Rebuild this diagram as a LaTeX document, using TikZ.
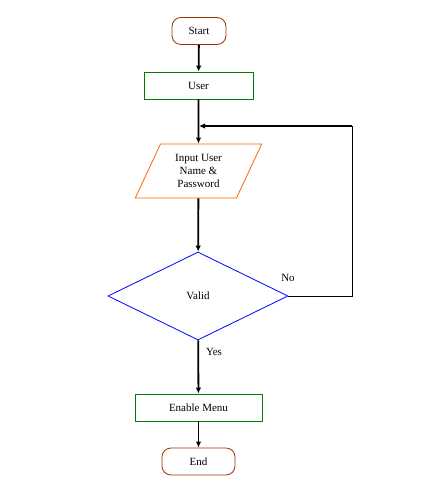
\documentclass[tikz,border=0pt]{standalone}
\usepackage{fontspec}
\setmainfont{Liberation Serif}
\usepackage{xcolor}
\usetikzlibrary{shapes.geometric, positioning, arrows.meta}

\definecolor{termbrown}{HTML}{993300}
\definecolor{procgreen}{HTML}{008000}
\definecolor{iorange}{HTML}{FF6600}
\definecolor{decblue}{HTML}{0000FF}

\begin{document}
\begin{tikzpicture}[
x=1pt, y=-1pt,
    terminal/.style={draw=termbrown, rectangle, rounded corners=9pt, line width=0.8pt, minimum height=27pt, align=center, font=\fontsize{11}{13}\selectfont},
    process/.style={draw=procgreen, rectangle, line width=0.8pt, minimum height=27pt, align=center, font=\fontsize{11}{13}\selectfont},
    io/.style={draw=iorange, trapezium, trapezium left angle=65, trapezium right angle=115, trapezium stretches=true, line width=0.8pt, minimum width=127pt, minimum height=54pt, inner sep=0pt, align=center, font=\fontsize{11}{13}\selectfont},
    decision/.style={draw=decblue, diamond, aspect=2, line width=0.8pt, minimum width=180pt, minimum height=88pt, inner sep=0pt, align=center, font=\fontsize{11}{13}\selectfont},
    tag/.style={font=\fontsize{11}{13}\selectfont},
    line/.style={draw, line width=1.8pt, -{Latex[length=6pt, width=5.5pt]}},
    thinline/.style={draw, line width=1pt}
]
    \useasboundingbox (0,0) rectangle (441,494);

    % --- Start and User ---
    \node[terminal, minimum width=54pt] (start) at (199, 31) {Start};
    \node[process, minimum width=109pt] (user) at (198.5, 85.5) {User};
    \draw[line] (start) -- (user);

    % --- Input ---
    \node[io] (input) at (198.5, 171) {Input User\\Name \&\\Password};
    \draw[line] (user) -- (input);

    % --- Decision ---
    \node[decision] (valid) at (198, 296) {Valid};
    \draw[line] (input) -- (valid);

    % --- Loop back on No ---
    \coordinate (loop) at (352, 126);
    \coordinate (join) at (199, 126);
    \draw[thinline] (valid.east) -| (loop);
    \draw[line] (loop) -- (join);
    \node[tag] (no) at (288, 278) {No};

    % --- Yes branch ---
    \node[process, minimum width=127pt] (menu) at (198.5, 407.5) {Enable Menu};
    \draw[line] (valid) -- (menu);
    \node[tag] (yes) at (214, 352) {Yes};

    % --- End ---
    \node[terminal, minimum width=73pt] (finish) at (198.5, 461.5) {End};
    \draw[line] (menu) -- (finish);

\end{tikzpicture}
\end{document}
